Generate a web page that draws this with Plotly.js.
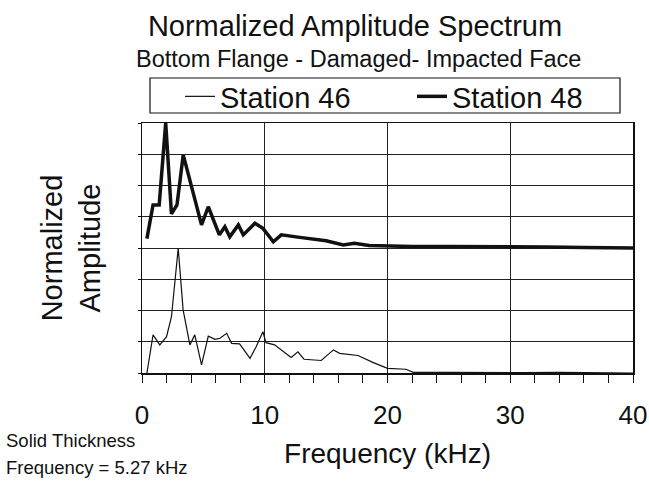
<!DOCTYPE html>
<html>
<head>
<meta charset="utf-8">
<script src="https://cdn.plot.ly/plotly-3.0.1.min.js"></script>
<style>html,body{margin:0;padding:0;background:#fff;}#chart{width:649px;height:481px;}</style>
</head>
<body>
<div id="chart"></div>
<script>
// Station 46 (thin line, lower trace)
const freq46 = [0.4, 0.9, 1.45, 2.0, 2.4, 2.95, 3.35, 3.9, 4.3, 4.85, 5.4, 5.95, 6.35, 6.9, 7.3, 7.95, 8.8, 9.3, 9.85, 10.1, 10.8, 12.15, 12.7, 13.2, 14.6, 15.6, 16.1, 17.6, 18.8, 20.0, 21.5, 22.1, 25, 28, 31, 34, 37, 40];
const amp46  = [0.0, 1.22, 0.9, 1.16, 1.8, 3.99, 2.02, 0.9, 1.22, 0.26, 1.18, 1.08, 1.11, 1.27, 0.95, 0.93, 0.47, 0.84, 1.32, 0.97, 0.9, 0.5, 0.68, 0.44, 0.4, 0.74, 0.63, 0.56, 0.34, 0.15, 0.12, 0.02, 0.02, 0.01, 0.01, 0.02, 0.01, 0.0];
// Station 48 (thick line, upper trace)
const freq48 = [0.4, 0.9, 1.4, 1.93, 2.4, 2.85, 3.36, 4.85, 5.4, 6.3, 6.75, 7.15, 7.85, 8.25, 9.2, 9.85, 10.7, 11.35, 12.85, 15.0, 16.4, 17.3, 18.5, 20.4, 22, 25, 28, 30, 33, 36, 40];
const amp48  = [4.3, 5.38, 5.38, 8.0, 5.09, 5.38, 6.98, 4.74, 5.32, 4.42, 4.68, 4.36, 4.74, 4.42, 4.79, 4.63, 4.2, 4.42, 4.34, 4.23, 4.1, 4.15, 4.08, 4.06, 4.05, 4.05, 4.05, 4.04, 4.03, 4.02, 4.0];
const seriesNames = ["Station 46", "Station 48"];
const xTickVals = [0, 10, 20, 30, 40];
const xTickText = ["0", "10", "20", "30", "40"];

const FONT = "Liberation Sans, Arial, Helvetica, sans-serif";
const INK = "#111";

const traces = [
  {x: freq46, y: amp46, name: seriesNames[0], type: "scatter", mode: "lines",
   line: {color: INK, width: 1.2}, legend: "legend"},
  {x: freq48, y: amp48, name: seriesNames[1], type: "scatter", mode: "lines",
   line: {color: INK, width: 3.5}, legend: "legend2"}
];

// pixel helpers for paper placement (plot area: x 142..633, y 123..373)
const px = v => (v - 142) / 491;
const py = v => (373 - v) / 250;

const legendBase = {
  orientation: "h", xanchor: "left", yanchor: "top", y: py(71),
  font: {size: 29, family: FONT, color: INK},
  bgcolor: "rgba(0,0,0,0)", borderwidth: 0, itemclick: false
};

const layout = {
  width: 649, height: 481,
  margin: {l: 142, r: 16, t: 123, b: 108},
  paper_bgcolor: "#fff", plot_bgcolor: "#fff",
  font: {family: FONT, color: INK},
  title: {
    text: "Normalized Amplitude Spectrum",
    font: {size: 29, family: FONT, color: INK},
    x: 355 / 649, xanchor: "center", xref: "container",
    y: 1 - 26 / 481, yanchor: "middle", yref: "container"
  },
  showlegend: true,
  legend: Object.assign({}, legendBase, {x: px(180)}),
  legend2: Object.assign({}, legendBase, {x: px(412)}),
  xaxis: {
    range: [0, 40], tickvals: xTickVals, ticktext: xTickText,
    showgrid: true, gridcolor: "#222", gridwidth: 1,
    zeroline: false, showline: true, linecolor: INK, linewidth: 1.5, mirror: true,
    ticks: "outside", ticklen: 8, tickcolor: INK,
    minor: {dtick: 2, ticks: "outside", ticklen: 8, tickcolor: INK, showgrid: false},
    tickfont: {size: 26, family: FONT, color: INK},
    ticklabelstandoff: 10,
    title: {text: "Frequency (kHz)", font: {size: 28, family: FONT, color: INK}, standoff: 14},
    fixedrange: true
  },
  yaxis: {
    range: [0, 8], dtick: 1, showticklabels: false,
    showgrid: true, gridcolor: "#222", gridwidth: 1,
    zeroline: false, showline: true, linecolor: INK, linewidth: 1.5, mirror: true,
    ticks: "outside", ticklen: 3, tickcolor: INK,
    title: {text: "Normalized<br>Amplitude", font: {size: 29, family: FONT, color: INK}, standoff: 28},
    fixedrange: true
  },
  shapes: [
    {type: "rect", xref: "paper", yref: "paper",
     x0: px(150), x1: px(620), y0: py(113), y1: py(78),
     line: {color: INK, width: 1.2}, fillcolor: "rgba(0,0,0,0)"}
  ],
  annotations: [
    {text: "Bottom Flange - Damaged- Impacted Face", xref: "paper", yref: "paper",
     x: px(358), y: py(59), xanchor: "center", yanchor: "middle",
     showarrow: false, font: {size: 23.5, family: FONT, color: INK}},
    {text: "Solid Thickness", xref: "paper", yref: "paper",
     x: px(4), y: py(440), xanchor: "left", yanchor: "middle", align: "left",
     showarrow: false, font: {size: 18.5, family: FONT, color: INK}},
    {text: "Frequency = 5.27 kHz", xref: "paper", yref: "paper",
     x: px(4), y: py(467), xanchor: "left", yanchor: "middle", align: "left",
     showarrow: false, font: {size: 18.5, family: FONT, color: INK}}
  ]
};

Plotly.newPlot("chart", traces, layout, {displayModeBar: false, staticPlot: true});
</script>
</body>
</html>
